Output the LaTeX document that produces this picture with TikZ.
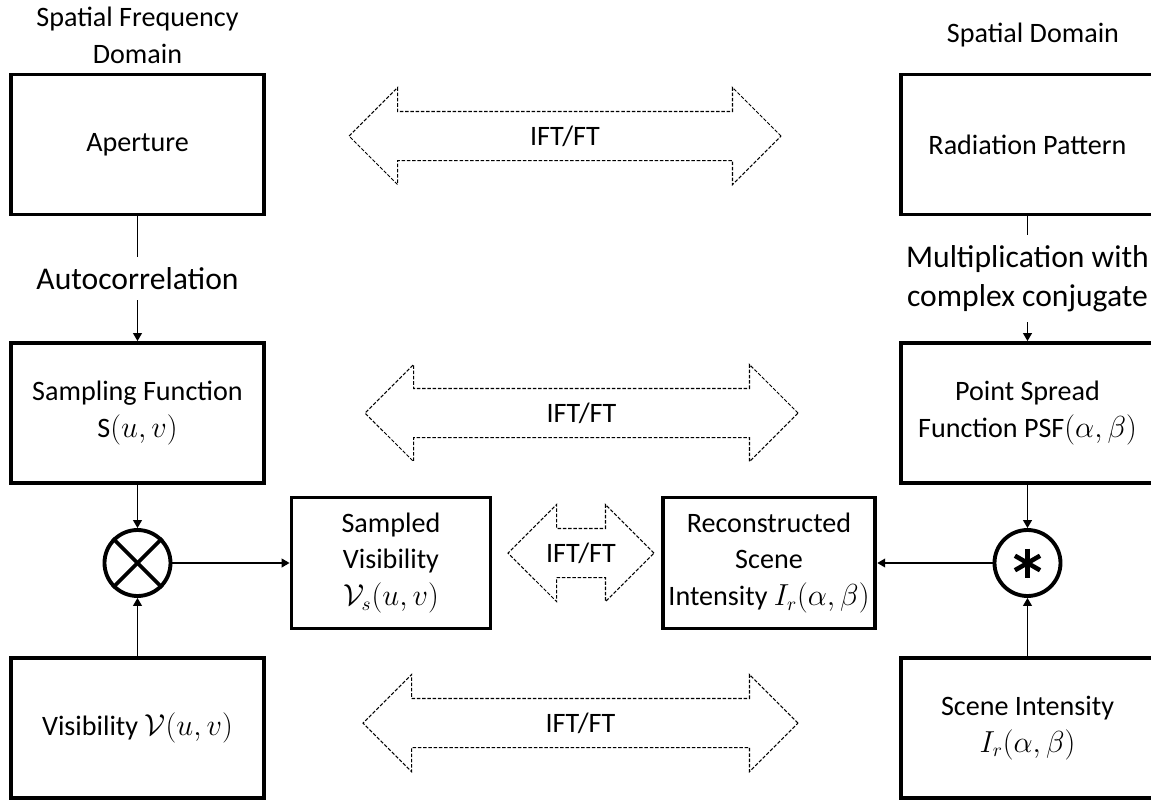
\documentclass[tikz,border=0pt]{standalone}
\usepackage{amsmath}
\usepackage{amssymb}
\usepackage{fontspec}
\setmainfont{Carlito}
\usepackage{tikz}
\usetikzlibrary{shapes.geometric, shapes.arrows, arrows.meta}
\newcommand{\mainfnt}{\fontsize{16}{21}\selectfont}
\newcommand{\labelfnt}{\fontsize{18}{22}\selectfont}
\tikzstyle{block} = [rectangle, minimum width=5.06cm, minimum height=2.8cm, align=center, draw=black, line width=2.2pt, font=\mainfnt]
\tikzstyle{smallblock} = [rectangle, minimum width=3.98cm, minimum height=2.62cm, align=center, draw=black, line width=2.2pt, font=\mainfnt]
\tikzstyle{joint} = [circle, minimum size=1.32cm, inner sep=0pt, draw=black, line width=2.2pt]
\tikzstyle{transform} = [double arrow, double arrow head extend=0.48cm, double arrow tip angle=90, minimum width=1.92cm, inner xsep=0pt, inner ysep=0.30cm, text height=0.36cm, text depth=0cm, draw=black, line width=0.6pt, dash pattern=on 2pt off 1pt, font=\mainfnt]
\tikzstyle{heading} = [align=center, font=\mainfnt]
\tikzstyle{edgelabel} = [fill=white, align=center, inner ysep=6pt, font=\labelfnt]
\tikzstyle{arrow} = [line width=0.8pt, -{Triangle[length=4.5pt,width=5pt]}]

\begin{document}
\begin{tikzpicture}[node distance=5.37cm]
  \useasboundingbox (0,0) rectangle (23.02,-16.04);
  % domains
  \node (freqtitle) [heading] at (2.75,-0.70) {Spatial Frequency\\Domain};
  \node (spacetitle) [heading] at (20.66,-0.70) {Spatial Domain};

  % left column
  \node (aperture) [block] at (2.75,-2.89) {Aperture};
  \node (sampling) [block, below of=aperture] {Sampling Function\\S$(u,v)$};
  \node (visibility) [block, below of=sampling, yshift=-0.93cm] {Visibility $\mathcal{V}(u,v)$};
  \node (otimes) [joint, below of=sampling, yshift=2.37cm] {};

  % right column
  \node (radiation) [block, right of=aperture, xshift=12.43cm] {Radiation Pattern};
  \node (psf) [block, below of=radiation] {Point Spread\\Function PSF$(\alpha,\beta)$};
  \node (scene) [block, below of=psf, yshift=-0.93cm] {Scene Intensity\\$I_r(\alpha,\beta)$};
  \node (star) [joint, below of=psf, yshift=2.37cm] {};

  % middle
  \node (sampled) [smallblock, right of=otimes, xshift=-0.30cm] {Sampled\\Visibility\\$\mathcal{V}_s(u,v)$};
  \node (recon) [smallblock, left of=star, xshift=0.20cm] {Reconstructed\\Scene\\Intensity $I_r(\alpha,\beta)$};

  % transforms
  \node (ft1) [transform, minimum height=8.64cm] at (11.30,-2.72) {IFT/FT};
  \node (ft2) [transform, minimum height=8.66cm] at (11.63,-8.26) {IFT/FT};
  \node (ft3) [transform, minimum height=8.70cm] at (11.61,-14.46) {IFT/FT};
  \node (ft4) [transform, minimum height=2.92cm] at (11.62,-11.06) {IFT/FT};

  % symbols
  \draw [line width=2.2pt] (otimes.45) -- (otimes.225);
  \draw [line width=2.2pt] (otimes.135) -- (otimes.315);
  \foreach \ang in {90,30,150}
    \draw [line width=2.6pt] (star) ++(\ang:0.29) -- ++(\ang+180:0.58);

  \draw [arrow] (aperture) -- node[edgelabel] {Autocorrelation} (sampling);
  \draw [arrow] (radiation) -- node[edgelabel] {Multiplication with\\complex conjugate} (psf);
  \draw [arrow] (sampling) -- (otimes);
  \draw [arrow] (visibility) -- (otimes);
  \draw [arrow] (otimes) -- (sampled);
  \draw [arrow] (psf) -- (star);
  \draw [arrow] (scene) -- (star);
  \draw [arrow] (star) -- (recon);
\end{tikzpicture}
\end{document}
